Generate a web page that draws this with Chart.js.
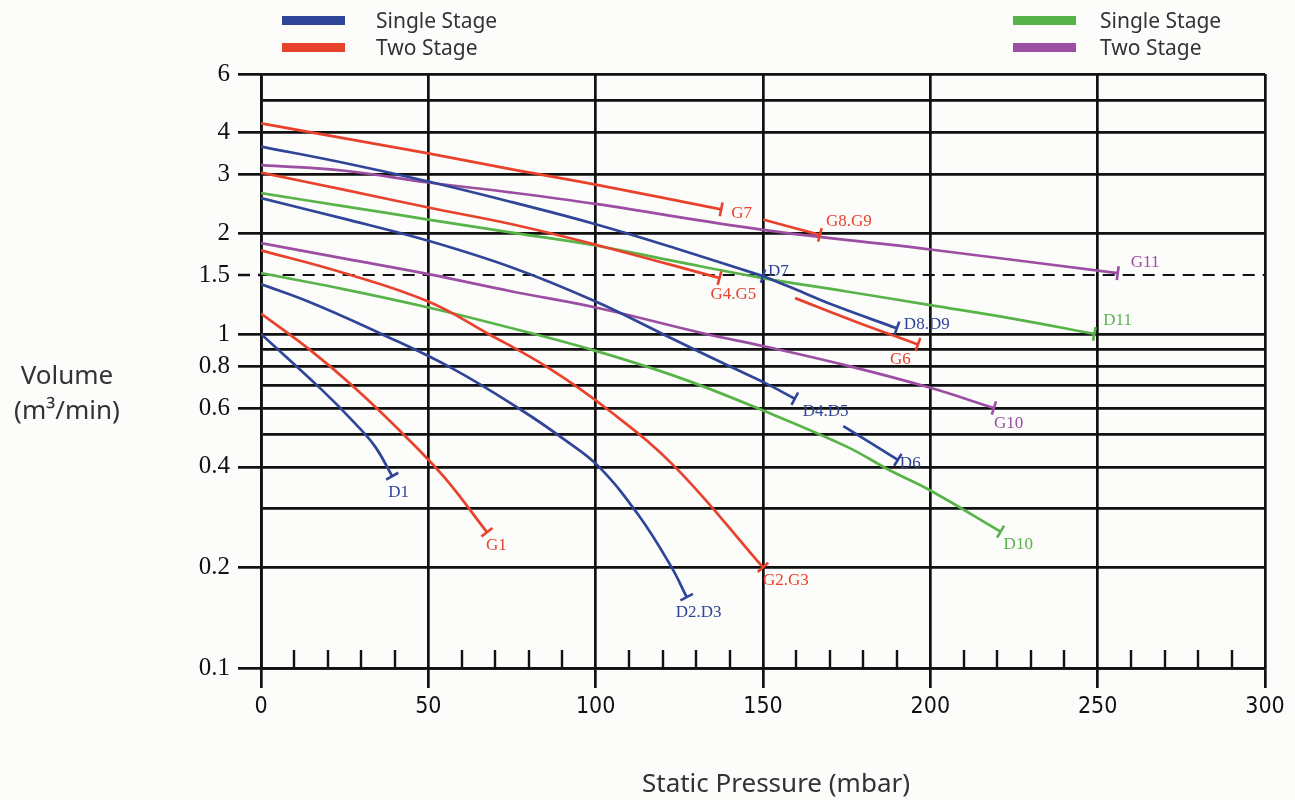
<!DOCTYPE html>
<html>
<head>
<meta charset="utf-8">
<script src="https://cdn.jsdelivr.net/npm/chart.js@4"></script>
<style>
  body { margin: 0; background: #fcfcfa; }
  #wrap { position: relative; width: 1295px; height: 800px; }
  .txt { position: absolute; font-family: 'Noto Sans', sans-serif; color: #333; white-space: nowrap; }
  .leg { font-size: 21px; line-height: 24px; }
  .sw { position: absolute; width: 63px; height: 9px; }
</style>
</head>
<body>
<div id="wrap">
  <canvas id="chart" width="1295" height="800"></canvas>

  <div class="sw" style="left:282px;top:16px;background:#2f4597"></div>
  <div class="txt leg" style="left:376px;top:8px">Single Stage</div>
  <div class="sw" style="left:282px;top:43px;background:#e8412c"></div>
  <div class="txt leg" style="left:376px;top:35px">Two Stage</div>

  <div class="sw" style="left:1013px;top:16px;background:#58b449"></div>
  <div class="txt leg" style="left:1100px;top:8px">Single Stage</div>
  <div class="sw" style="left:1013px;top:43px;background:#9b4ea2"></div>
  <div class="txt leg" style="left:1100px;top:35px">Two Stage</div>

  <div class="txt" style="left:2px;top:357px;width:130px;text-align:center;font-size:26px;line-height:35px">Volume<br>(m³/min)</div>
  <div class="txt" style="left:576px;top:767px;width:400px;text-align:center;font-size:26px;line-height:30px">Static Pressure (mbar)</div>
</div>
<script>
// [static pressure (mbar), volume (m3/min)]
const D1 = [[0, 1.0], [18.2, 0.68], [28.1, 0.54], [34.1, 0.46], [39.2, 0.375]];
const D2D3 = [[0, 1.41], [15, 1.24], [36, 1.0], [57, 0.79], [78, 0.59], [91, 0.48], [101, 0.4], [113, 0.285], [122.7, 0.2], [127.2, 0.163]];
const D4D5 = [[0, 2.55], [25, 2.21], [50, 1.9], [75, 1.58], [100, 1.25], [120, 1.0], [140, 0.8], [151, 0.71], [159.5, 0.64]];
const D6 = [[174, 0.53], [190.3, 0.42]];
const D7 = [[0, 3.64], [25, 3.25], [50, 2.86], [75, 2.48], [100, 2.13], [125, 1.79], [150, 1.49]];
const D8D9 = [[150, 1.49], [159, 1.37], [171, 1.22], [190, 1.04]];

const G1 = [[0, 1.15], [15, 0.89], [28, 0.69], [43.5, 0.49], [55, 0.37], [67.5, 0.255]];
const G2G3 = [[0, 1.78], [25, 1.52], [50, 1.25], [68, 1.0], [86, 0.79], [104, 0.59], [123.7, 0.4], [150, 0.2]];
const G4G5 = [[0, 3.04], [25, 2.7], [50, 2.39], [75, 2.13], [100, 1.85], [137, 1.47]];
const G6 = [[159.6, 1.28], [177.5, 1.09], [196.3, 0.93]];
const G7 = [[0, 4.27], [25, 3.85], [50, 3.47], [75, 3.11], [100, 2.8], [137.5, 2.36]];
const G8G9 = [[150, 2.2], [167, 1.98]];

const D10 = [[0, 1.52], [25, 1.36], [50, 1.2], [75, 1.04], [100, 0.89], [125, 0.74], [150, 0.59], [175, 0.46], [188, 0.39], [200, 0.34], [221, 0.256]];
const D11 = [[0, 2.64], [25, 2.41], [50, 2.2], [75, 2.01], [100, 1.84], [125, 1.64], [150, 1.47], [175, 1.34], [200, 1.22], [225, 1.11], [249, 1.0]];
const G10 = [[0, 1.87], [25, 1.68], [50, 1.51], [75, 1.34], [100, 1.2], [133, 1.0], [150, 0.92], [176, 0.8], [200, 0.69], [219, 0.6]];
const G11 = [[0, 3.2], [25, 3.08], [50, 2.84], [75, 2.65], [100, 2.45], [150, 2.05], [200, 1.79], [256, 1.52]];

const volumeGrid = [0.1, 0.2, 0.3, 0.4, 0.5, 0.6, 0.7, 0.8, 0.9, 1, 1.5, 2, 3, 4, 5, 6];
const volumeLabels = [0.1, 0.2, 0.4, 0.6, 0.8, 1, 1.5, 2, 3, 4, 6];

const colors = { blue: '#2f4597', red: '#e8412c', green: '#58b449', purple: '#9b4ea2' };

const segments = [
  ['D1', D1, 'blue'], ['D2.D3', D2D3, 'blue'], ['D4.D5', D4D5, 'blue'], ['D6', D6, 'blue'],
  ['D7', D7, 'blue'], ['D8.D9', D8D9, 'blue'],
  ['G1', G1, 'red'], ['G2.G3', G2G3, 'red'], ['G4.G5', G4G5, 'red'], ['G6', G6, 'red'],
  ['G7', G7, 'red'], ['G8.G9', G8G9, 'red'],
  ['D10', D10, 'green'], ['D11', D11, 'green'],
  ['G10', G10, 'purple'], ['G11', G11, 'purple']
];

// where each name sits relative to the end of its curve (px)
const labelOffset = {
  'D1': [-4, 16], 'G1': [-1, 13], 'D2.D3': [-11, 15], 'G2.G3': [0, 13],
  'D4.D5': [8, 13], 'D6': [2, 4], 'D7': [5, -5], 'D8.D9': [7, -4],
  'G4.G5': [-9, 16], 'G6': [-28, 15], 'G7': [10, 4], 'G8.G9': [6, -13],
  'G10': [0, 15], 'G11': [13, -11], 'D10': [3, 13], 'D11': [9, -13]
};

// end stop drawn across the curve
function endRotation(ctx) {
  const d = ctx.dataset.data;
  const a = d[d.length - 2], b = d[d.length - 1];
  const { x, y } = ctx.chart.scales;
  const ang = Math.atan2(y.getPixelForValue(b.y) - y.getPixelForValue(a.y),
                         x.getPixelForValue(b.x) - x.getPixelForValue(a.x));
  return ang * 180 / Math.PI + 90;
}

const extras = {
  id: 'extras',
  afterDatasetsDraw(chart) {
    const c = chart.ctx;
    c.save();
    // small ticks along the bottom every 10 mbar
    const xs = chart.scales.x, bottom = chart.chartArea.bottom;
    c.strokeStyle = '#111';
    c.lineWidth = 2.4;
    for (let v = 10; v < 300; v += 10) {
      if (v % 50 === 0) continue;
      const px = Math.round(xs.getPixelForValue(v));
      c.beginPath();
      c.moveTo(px, bottom - 18);
      c.lineTo(px, bottom);
      c.stroke();
    }
    c.font = '17px "Liberation Serif", serif';
    c.textBaseline = 'middle';
    c.textAlign = 'left';
    chart.data.datasets.forEach((ds, i) => {
      const pts = chart.getDatasetMeta(i).data;
      const end = pts[pts.length - 1];
      const off = labelOffset[ds.label];
      c.fillStyle = ds.borderColor;
      c.fillText(ds.label, end.x + off[0], end.y + off[1]);
    });
    c.restore();
  }
};

new Chart(document.getElementById('chart'), {
  type: 'line',
  data: {
    datasets: segments.map(([name, pts, col]) => ({
      label: name,
      data: pts.map(([x, y]) => ({ x, y })),
      borderColor: colors[col],
      borderWidth: 2.7,
      tension: 0.4,
      fill: false,
      pointStyle: 'line',
      pointRadius: ctx => ctx.dataIndex === ctx.dataset.data.length - 1 ? 7 : 0,
      pointBorderColor: colors[col],
      pointBorderWidth: 2.6,
      pointRotation: endRotation
    }))
  },
  options: {
    responsive: false,
    animation: false,
    events: [],
    devicePixelRatio: 1,
    layout: { padding: { top: 74, right: 30, left: 0, bottom: 0 } },
    plugins: { legend: { display: false }, tooltip: { enabled: false } },
    scales: {
      x: {
        type: 'linear', min: 0, max: 300,
        afterFit: s => { s.height = 132; },
        ticks: {
          stepSize: 50, padding: 5, color: '#111',
          font: { family: "'Liberation Sans Narrow', 'DejaVu Sans Condensed', sans-serif", size: 23 }
        },
        grid: { color: '#111', lineWidth: 2.7, tickLength: 20, tickColor: '#111', tickWidth: 2.7 },
        border: { color: '#111', width: 2.7 }
      },
      y: {
        type: 'logarithmic', min: 0.1, max: 6,
        afterFit: s => { s.width = 261; },
        afterBuildTicks: s => { s.ticks = volumeGrid.map(v => ({ value: v })); },
        ticks: {
          autoSkip: false, padding: 8, color: '#111',
          font: { family: "'Liberation Serif', serif", size: 25 },
          callback: v => volumeLabels.includes(v) ? String(v) : ''
        },
        grid: {
          color: '#111',
          lineWidth: ctx => (ctx.tick && ctx.tick.value === 1.5) ? 2 : 2.7,
          tickLength: 23,
          tickWidth: 2.7,
          tickColor: ctx => (ctx.tick && volumeLabels.includes(ctx.tick.value)) ? '#111' : 'rgba(0,0,0,0)',
          tickBorderDash: ctx => (ctx.tick && ctx.tick.value === 1.5) ? [12, 8] : []
        },
        border: {
          color: '#111', width: 2.7,
          dash: ctx => (ctx.tick && ctx.tick.value === 1.5) ? [12, 8] : []
        }
      }
    }
  },
  plugins: [extras]
});
</script>
</body>
</html>
